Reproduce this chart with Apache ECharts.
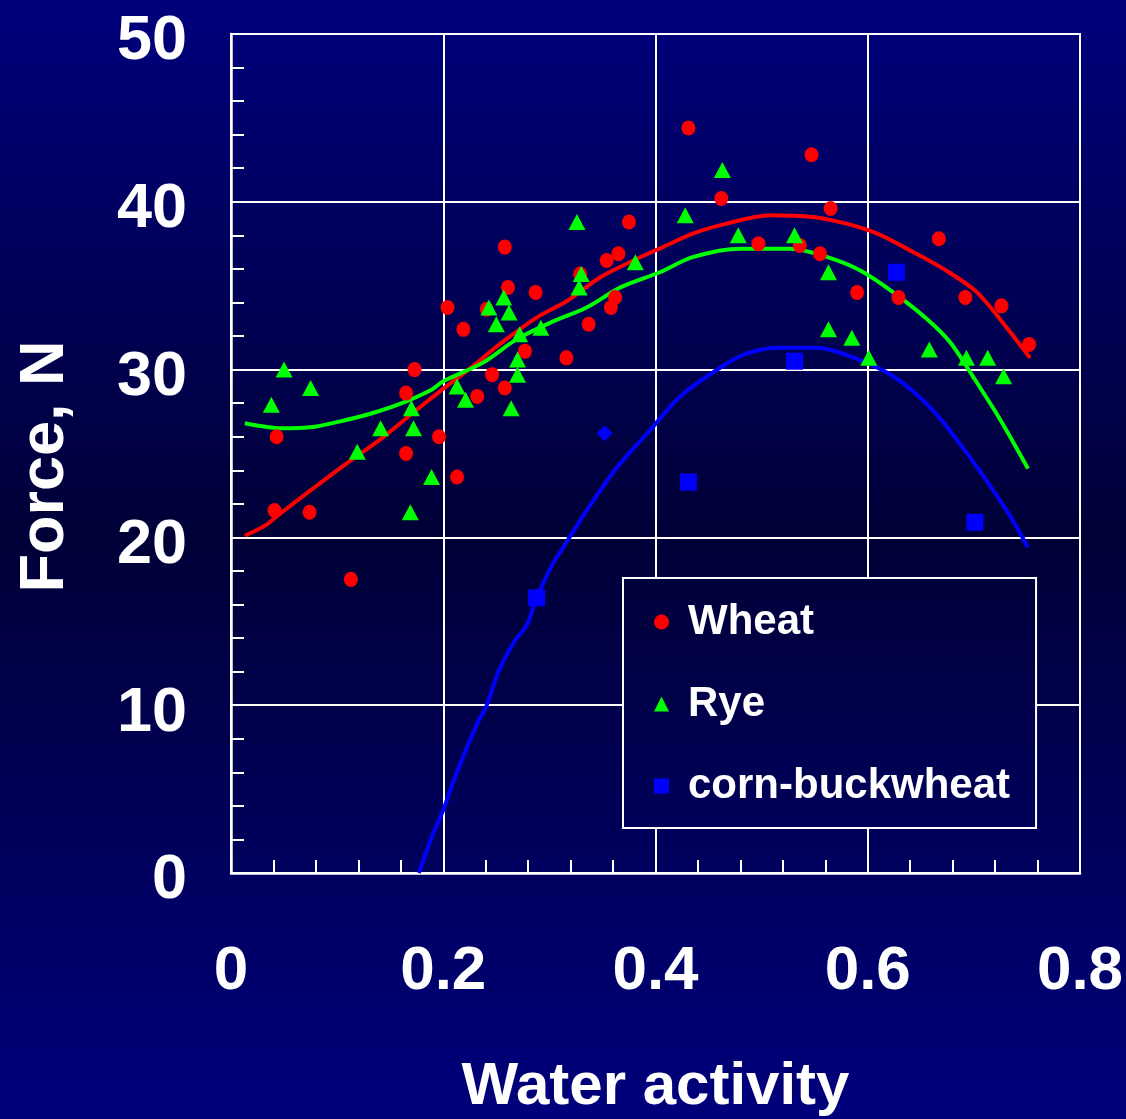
<!DOCTYPE html>
<html>
<head>
<meta charset="utf-8">
<script src="https://cdn.jsdelivr.net/npm/echarts@6/dist/echarts.min.js"></script>
<style>
html,body{margin:0;padding:0;background:#000060;}
#chart{width:1126px;height:1119px;}
</style>
</head>
<body>
<div id="chart"></div>
<script>
// ---- data ----
var wheatX = [0.041,0.043,0.074,0.113,0.165,0.165,0.173,0.196,0.204,0.213,0.219,0.232,0.241,0.246,0.258,0.258,0.261,0.277,0.287,0.316,0.329,0.337,0.354,0.358,0.362,0.365,0.375,0.431,0.462,0.497,0.536,0.547,0.555,0.565,0.590,0.629,0.667,0.692,0.726,0.752];
var wheatY = [21.6,26.0,21.5,17.5,25.0,28.6,30.0,26.0,33.7,23.6,32.4,28.4,33.6,29.7,28.9,37.3,34.9,31.1,34.6,30.7,35.7,32.7,36.5,33.7,34.3,36.9,38.8,44.4,40.2,37.5,37.4,42.8,36.9,39.6,34.6,34.3,37.8,34.3,33.8,31.5];

var ryeX = [0.038,0.050,0.075,0.119,0.141,0.169,0.170,0.172,0.189,0.213,0.221,0.243,0.250,0.257,0.262,0.264,0.270,0.270,0.272,0.292,0.326,0.328,0.330,0.381,0.428,0.463,0.478,0.531,0.563,0.563,0.585,0.601,0.658,0.693,0.713,0.728];
var ryeY = [27.9,30.0,28.9,25.1,26.5,21.5,27.7,26.5,23.6,29.0,28.2,33.7,32.7,34.3,33.4,27.7,29.7,30.6,32.1,32.5,38.8,34.9,35.7,36.4,39.2,41.9,38.0,38.0,35.8,32.4,31.9,30.7,31.2,30.7,30.7,29.6];

var cornX = [0.288,0.352,0.431,0.531,0.627,0.701];
var cornY = [16.4,26.2,23.3,30.5,35.8,20.9];
var cornShape = ['rect','diamond','rect','rect','rect','rect'];

var wheatFitX = [0.013,0.032,0.048,0.079,0.111,0.142,0.173,0.205,0.222,0.253,0.288,0.317,0.348,0.379,0.407,0.435,0.467,0.508,0.548,0.580,0.609,0.643,0.674,0.703,0.731,0.753];
var wheatFitY = [20.1,20.7,21.5,23.0,24.5,25.9,27.5,29.1,29.9,31.5,33.1,34.1,35.5,36.5,37.3,38.1,38.7,39.2,39.1,38.7,38.1,37.0,35.9,34.6,32.5,30.7];

var ryeFitX = [0.013,0.048,0.079,0.102,0.133,0.161,0.189,0.200,0.237,0.269,0.301,0.335,0.367,0.404,0.435,0.480,0.527,0.562,0.593,0.624,0.656,0.678,0.699,0.725,0.751];
var ryeFitY = [26.8,26.5,26.6,26.9,27.4,28.0,28.8,29.3,30.4,31.8,32.8,33.7,34.9,35.8,36.7,37.2,37.2,36.7,35.9,34.6,33.0,31.6,29.6,27.0,24.1];

var cornFitX = [0.177,0.189,0.200,0.211,0.232,0.241,0.252,0.266,0.279,0.288,0.303,0.313,0.335,0.364,0.395,0.417,0.435,0.480,0.514,0.552,0.583,0.624,0.661,0.696,0.731,0.751];
var cornFitY = [0,2.1,3.75,5.7,8.9,10.0,12.0,13.7,14.8,16.4,18.4,19.4,21.6,24.2,26.4,28.0,29.0,30.8,31.3,31.3,30.8,29.6,27.6,24.8,21.6,19.4];

var xTicks = [0,0.2,0.4,0.6,0.8];
var yTicks = [0,10,20,30,40,50];
var legendNames = ['Wheat','Rye','corn-buckwheat'];

function pairs(xs, ys){ return xs.map(function(x,i){ return [x, ys[i]]; }); }

var FONT = '"Liberation Sans", Arial, sans-serif';
var bg = {type:'linear',x:0,y:0,x2:0,y2:1,colorStops:[
  {offset:0,color:'#00007c'},{offset:0.48,color:'#000037'},{offset:1,color:'#00007c'}]};
// legend occupies approx t = 0.517..0.740 of the page height
var legendBg = {type:'linear',x:0,y:0,x2:0,y2:1,colorStops:[
  {offset:0,color:'#00003a'},{offset:1,color:'#00005a'}]};

var chart = echarts.init(document.getElementById('chart'), null, {renderer:'canvas'});
chart.setOption({
  backgroundColor: bg,
  animation: false,
  grid: {left:231, right:46, top:34, bottom:246, show:true, borderColor:'#ffffff', borderWidth:2, backgroundColor:'transparent',
    containLabel:false, outerBoundsMode:'none'},
  xAxis: {
    type:'value', min:xTicks[0], max:xTicks[xTicks.length-1], interval:0.2,
    name:'Water activity', nameLocation:'middle', nameGap:184,
    nameTextStyle:{color:'#fff', fontSize:60, fontWeight:'bold', fontFamily:FONT},
    axisLine:{show:true, onZero:false, lineStyle:{color:'#fff', width:2.5}},
    axisTick:{show:true, inside:true, length:13, lineStyle:{color:'#fff', width:2}},
    minorTick:{show:true, splitNumber:5, length:13, lineStyle:{color:'#fff', width:2}},
    splitLine:{show:true, lineStyle:{color:'#ffffff', width:2}},
    axisLabel:{color:'#fff', fontSize:62, fontWeight:'bold', fontFamily:FONT, margin:68,
      formatter:function(v){ return String(+v.toFixed(1)); }}
  },
  yAxis: {
    type:'value', min:yTicks[0], max:yTicks[yTicks.length-1], interval:10,
    name:'Force, N', nameLocation:'middle', nameGap:154, nameRotate:90,
    nameTextStyle:{color:'#fff', fontSize:63, fontWeight:'bold', fontFamily:FONT, padding:[0,26,0,0]},
    axisLine:{show:true, onZero:false, lineStyle:{color:'#fff', width:2.5}},
    axisTick:{show:true, inside:true, length:13, lineStyle:{color:'#fff', width:2}},
    minorTick:{show:true, splitNumber:5, length:13, lineStyle:{color:'#fff', width:2}},
    splitLine:{show:true, lineStyle:{color:'#ffffff', width:2}},
    axisLabel:{color:'#fff', fontSize:63, fontWeight:'bold', fontFamily:FONT, margin:44,
      formatter:function(v){ return '{v|' + v + '}'; },
      rich:{v:{color:'#fff', fontSize:63, fontWeight:'bold', fontFamily:FONT, padding:[16,0,0,0]}}}
  },
  legend: {
    orient:'vertical', left:623, top:578,
    padding:[23, 26, 21, 31], itemGap:40, itemWidth:15, itemHeight:15,
    borderColor:'#fff', borderWidth:2, backgroundColor: legendBg,
    textStyle:{color:'#fff', fontSize:42, fontWeight:'bold', fontFamily:FONT, lineHeight:42, padding:[0,0,0,14]},
    data: legendNames,
    selectedMode:false
  },
  series: [
    {name:'Wheat fit', type:'line', data:pairs(wheatFitX, wheatFitY), showSymbol:false, smooth:0.3, silent:true,
      lineStyle:{color:'#ff0000', width:4}, itemStyle:{color:'#ff0000'}, z:2},
    {name:'Rye fit', type:'line', data:pairs(ryeFitX, ryeFitY), showSymbol:false, smooth:0.3, silent:true,
      lineStyle:{color:'#00ff00', width:4}, itemStyle:{color:'#00ff00'}, z:2},
    {name:'corn-buckwheat fit', type:'line', data:pairs(cornFitX, cornFitY), showSymbol:false, smooth:0.3, silent:true,
      lineStyle:{color:'#0000ff', width:4}, itemStyle:{color:'#0000ff'}, z:2},
    {name:legendNames[0], type:'scatter', data:pairs(wheatX, wheatY), symbol:'circle', symbolSize:[14,15],
      itemStyle:{color:'#ff0000', opacity:1}, z:3},
    {name:legendNames[1], type:'scatter', data:pairs(ryeX, ryeY), symbol:'triangle', symbolSize:[17,16],
      itemStyle:{color:'#00ff00', opacity:1}, z:4},
    {name:legendNames[2], type:'scatter', symbol:'rect', symbolSize:17,
      data: cornX.map(function(x,i){ return {value:[x, cornY[i]], symbol:cornShape[i], symbolSize: cornShape[i]==='diamond' ? 16 : 17}; }),
      itemStyle:{color:'#0000ff', opacity:1}, z:5}
  ]
});
</script>
</body>
</html>
